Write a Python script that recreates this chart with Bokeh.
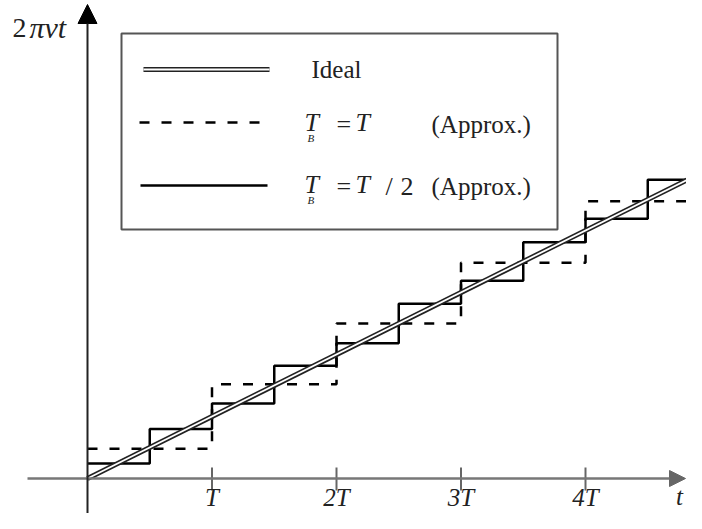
from bokeh.plotting import figure
from bokeh.models import Range1d, Arrow, NormalHead
from bokeh.core.properties import value
from bokeh.embed import file_html
from bokeh.resources import INLINE

# ---- data (x in units of T, y in units of 2*pi*nu*T) ----
ideal_t = [0.0, 4.95]
ideal_v = [0.0, 4.95]

dashed_t = [0.0, 1.0, 2.0, 3.0, 4.0, 4.95]
dashed_v = [0.48, 1.52, 2.50, 3.48, 4.47, 4.47]

solid_t = [0.0, 0.5, 1.0, 1.5, 2.0, 2.5, 3.0, 3.5, 4.0, 4.5, 4.95]
solid_v = [0.24, 0.80, 1.21, 1.82, 2.18, 2.82, 3.19, 3.81, 4.19, 4.82, 4.82]

tick_pos = [1, 2, 3, 4]
tick_labels = ["T", "2T", "3T", "4T"]

legend_labels = ["Ideal", "(Approx.)", "(Approx.)"]

# ---- pixel mapping helpers (reference image pixels -> data) ----
OX, OY, SX, SY = 87.0, 478.0, 124.5, 62.0
def px(X):
    return (X - OX) / SX
def py(Y):
    return (OY - Y) / SY

W, H = 686, 513
p = figure(width=W, height=H, output_backend="svg", toolbar_location=None,
           x_range=Range1d(px(0), px(W)), y_range=Range1d(py(H), py(0)),
           min_border=0)
p.axis.visible = False
p.grid.visible = False
p.outline_line_color = None
p.background_fill_color = "white"

SERIF = value("Liberation Serif")

# axes with arrows
p.add_layout(Arrow(end=NormalHead(size=16, fill_color="#666666", line_color="#666666"),
                   x_start=px(27), y_start=0, x_end=px(685), y_end=0,
                   line_color="#777777", line_width=2.5))
p.add_layout(Arrow(end=NormalHead(size=19, fill_color="black", line_color="black"),
                   x_start=0, y_start=py(520), x_end=0, y_end=py(4),
                   line_color="#222222", line_width=2))

# ticks
p.segment(x0=tick_pos, y0=[py(467)] * 4, x1=tick_pos, y1=[py(490)] * 4,
          line_color="#666666", line_width=2)
p.text(x=tick_pos, y=[py(497)] * 4, text=tick_labels, text_font=SERIF,
       text_font_style="italic", text_font_size="25px",
       text_align="center", text_baseline="middle", text_color="#222222")
p.text(x=[px(679)], y=[py(496)], text=["t"], text_font=SERIF,
       text_font_style="italic", text_font_size="25px",
       text_align="center", text_baseline="middle", text_color="#222222")

# y label 2πνt
p.text(x=[px(12)], y=[py(27)], text=["2"], text_font=SERIF, text_font_size="28px",
       text_align="left", text_baseline="middle", text_color="#222222")
p.text(x=[px(29)], y=[py(27)], text=["πνt"], text_font=SERIF, text_font_style="italic",
       text_font_size="30px", text_align="left", text_baseline="middle", text_color="#222222")

# data lines
p.step(x=dashed_t, y=dashed_v, mode="after", line_color="black", line_width=2.5,
       line_dash="10 12")
p.step(x=solid_t, y=solid_v, mode="after", line_color="black", line_width=2.5)
p.line(x=ideal_t, y=ideal_v, line_color="#222222", line_width=5)
p.line(x=ideal_t, y=ideal_v, line_color="white", line_width=1.8)

# legend box
p.quad(left=[px(121)], right=[px(557)], bottom=[py(229)], top=[py(33)],
       fill_color="white", line_color="#555555", line_width=2)
# legend samples
p.line(x=[px(143), px(269)], y=[py(69), py(69)], line_color="#222222", line_width=5)
p.line(x=[px(143), px(269)], y=[py(69), py(69)], line_color="white", line_width=1.8)
p.line(x=[px(139), px(262)], y=[py(122), py(122)], line_color="black", line_width=2.5,
       line_dash="10 12")
p.line(x=[px(140), px(267)], y=[py(185), py(185)], line_color="black", line_width=2.5)

LFS = "25px"
def txt(X, Y, s, style="normal", size=LFS):
    p.text(x=[px(X)], y=[py(Y)], text=[s], text_font=SERIF, text_font_style=style,
           text_font_size=size, text_align="left", text_baseline="middle",
           text_color="#222222")

txt(311, 69, legend_labels[0])
# row 2: T_B = T (Approx.)
txt(304, 122, "T", "italic", "26px")
txt(307, 137, "B", "italic", "11px")
txt(336, 124, "=", "normal", "26px")
txt(355, 122, "T", "italic", "26px")
txt(431, 124, legend_labels[1])
# row 3: T_B = T / 2 (Approx.)
txt(304, 184, "T", "italic", "26px")
txt(307, 199, "B", "italic", "11px")
txt(336, 186, "=", "normal", "26px")
txt(355, 184, "T", "italic", "26px")
txt(385, 186, "/", "normal", "26px")
txt(400, 186, "2", "normal", "26px")
txt(431, 186, legend_labels[2])

open("out.html", "w").write(file_html(p, INLINE))
